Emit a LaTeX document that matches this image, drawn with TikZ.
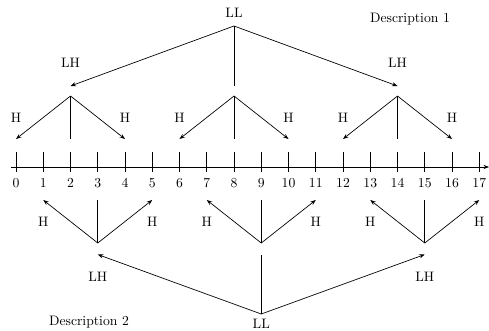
\documentclass[tikz,border=0pt]{standalone}
\usetikzlibrary{arrows.meta,calc}
\begin{document}
\begin{tikzpicture}[x=0.73pt,y=-0.73pt,
  link/.style={-{Stealth[length=4pt,width=3pt]}, line width=0.5pt},
  stem/.style={line width=0.5pt},
  lbl/.style={inner sep=0pt}]
\useasboundingbox (0,0) rectangle (489,330);
% positions along the number line
\foreach \i in {0,...,17} {
  \pgfmathsetmacro\xx{16+27.25*\i}
  \coordinate (tk\i) at (\xx,152);
  \coordinate (tb\i) at (\xx,172);
  \node[lbl] (n\i) at (\xx,183) {\i};
  \coordinate (hi\i) at (\xx,139);
  \coordinate (lo\i) at (\xx,200);
  \coordinate (ha\i) at (\xx,96);
  \coordinate (la\i) at (\xx,243);
  \coordinate (hm\i) at (\xx,86);
  \coordinate (lm\i) at (\xx,254.5);
}
% axis and ticks
\coordinate (axs) at (10.5,167);
\coordinate (axe) at (489,167);
\draw[link] (axs) -- (axe);
\foreach \i in {0,...,17} \draw[stem] (tk\i) -- (tb\i);

% upper tree
\coordinate (LLt) at (234,26);
\node[lbl] (LLtop) at (234,13) {LL};
\draw[stem] (LLt) -- (hm8);
\draw[link] (LLt) -- (hm2);
\draw[link] (LLt) -- (hm14);
\node[lbl] (LHt1) at (70.5,63) {LH};
\node[lbl] (LHt2) at (397.5,63) {LH};
\foreach \c in {2,8,14} {
  \pgfmathtruncatemacro\l{\c-2}
  \pgfmathtruncatemacro\r{\c+2}
  \draw[stem] (ha\c) -- (hi\c);
  \draw[link] (ha\c) -- (hi\l);
  \draw[link] (ha\c) -- (hi\r);
  \node[lbl] (Hu\l) at ($(hi\l)+(0,-21)$) {H};
  \node[lbl] (Hu\r) at ($(hi\r)+(0,-21)$) {H};
}

% lower tree
\coordinate (LLb) at (261.25,314);
\node[lbl] (LLbot) at (261.25,323.5) {LL};
\draw[stem] (LLb) -- (lm9);
\draw[link] (LLb) -- (lm3);
\draw[link] (LLb) -- (lm15);
\node[lbl] (LHb1) at (97.75,277) {LH};
\node[lbl] (LHb2) at (424.75,277) {LH};
\foreach \c in {3,9,15} {
  \pgfmathtruncatemacro\l{\c-2}
  \pgfmathtruncatemacro\r{\c+2}
  \draw[stem] (la\c) -- (lo\c);
  \draw[link] (la\c) -- (lo\l);
  \draw[link] (la\c) -- (lo\r);
  \node[lbl] (Hd\l) at ($(lo\l)+(0,22)$) {H};
  \node[lbl] (Hd\r) at ($(lo\r)+(0,22)$) {H};
}

\node[lbl] (desc1) at (410,19) {Description 1};
\node[lbl] (desc2) at (89,322) {Description 2};
\end{tikzpicture}
\end{document}
